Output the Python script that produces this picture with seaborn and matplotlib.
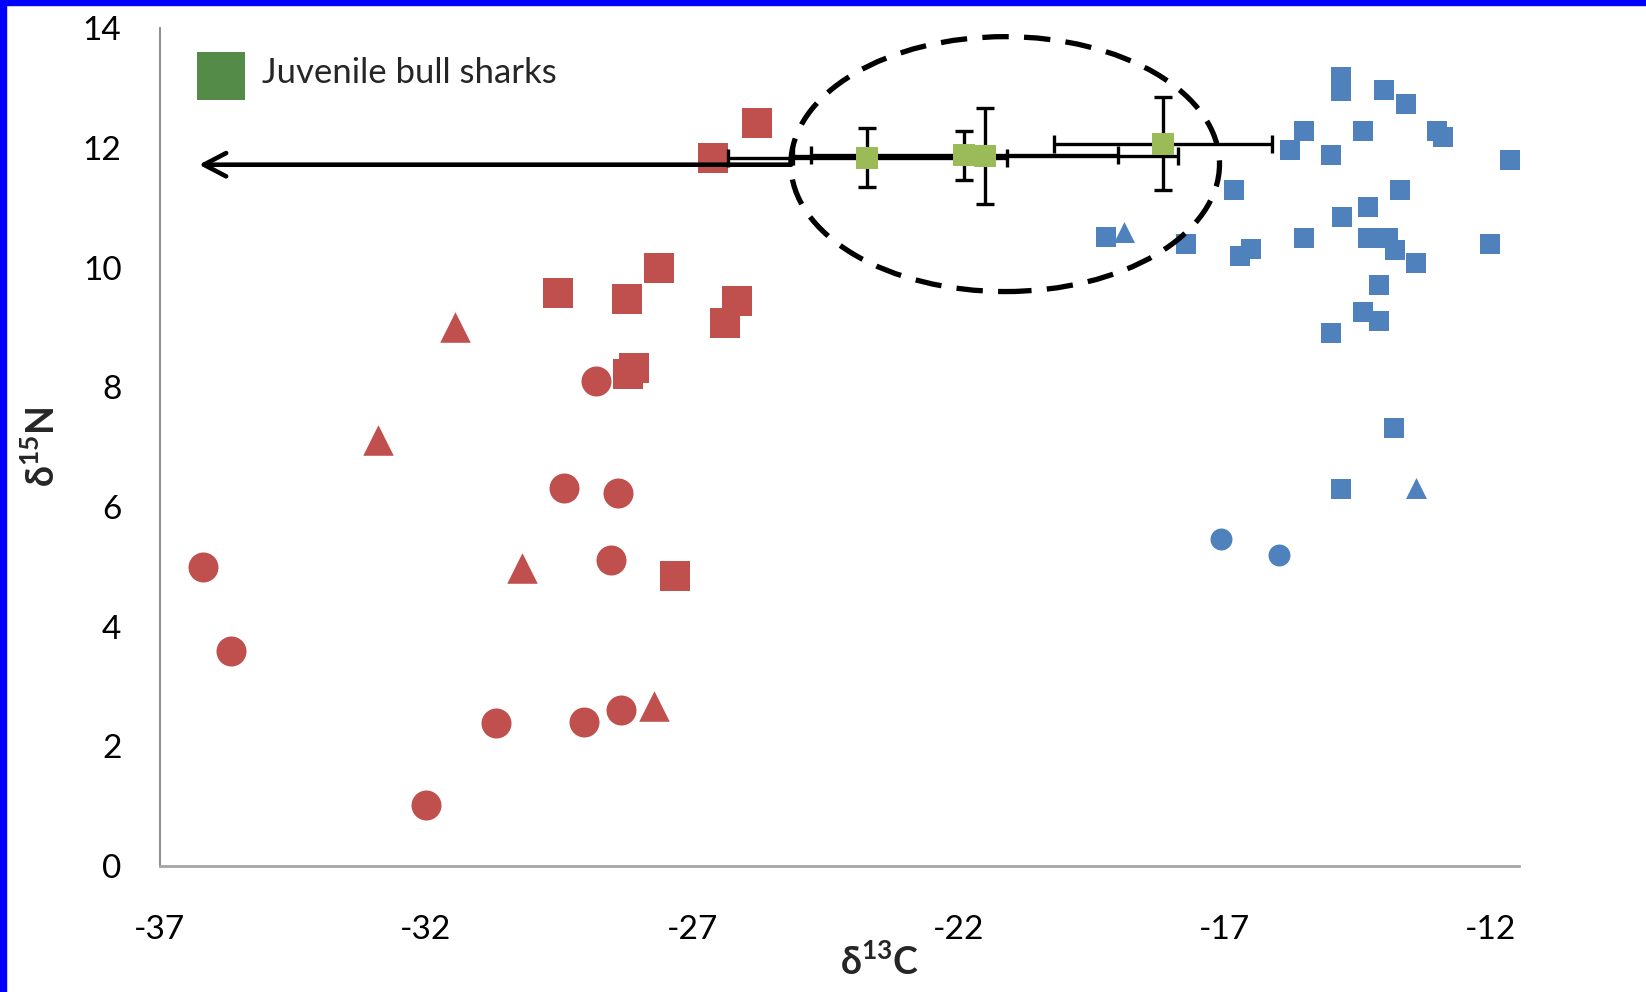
import matplotlib
matplotlib.use("Agg")
import matplotlib.pyplot as plt
import seaborn as sns
from matplotlib.patches import Ellipse, Rectangle
from matplotlib.lines import Line2D

# --- data (delta13C, delta15N) ---
red_sq_x = [-25.78, -26.61, -27.62, -29.51, -28.23, -26.16, -26.39, -28.09, -28.21, -27.32]
red_sq_y = [12.42, 11.84, 10.00, 9.58, 9.47, 9.44, 9.07, 8.33, 8.23, 4.84]
red_ci_x = [-36.19, -35.66, -32.00, -30.69, -29.03, -28.34, -29.41, -28.40, -28.52, -28.80]
red_ci_y = [5.00, 3.60, 1.02, 2.39, 2.40, 2.60, 6.32, 6.23, 5.11, 8.11]
red_tr_x = [-31.46, -32.90, -30.20, -27.71]
red_tr_y = [9.00, 7.12, 4.98, 2.68]

blue_sq_x = [-14.81, -14.81, -14.01, -13.60, -15.50, -15.77, -14.40, -15.00, -13.01, -12.89,
             -11.64, -16.82, -13.71, -14.30, -14.80, -19.22, -17.73, -16.51, -16.71, -15.50,
             -14.30, -13.93, -13.80, -13.41, -12.01, -14.10, -14.40, -14.10, -15.00, -13.81,
             -14.82]
blue_sq_y = [13.18, 12.95, 12.97, 12.74, 12.28, 11.97, 12.28, 11.89, 12.28, 12.18,
             11.80, 11.30, 11.30, 11.01, 10.85, 10.52, 10.40, 10.31, 10.20, 10.49,
             10.49, 10.49, 10.29, 10.08, 10.40, 9.71, 9.26, 9.11, 8.91, 7.32,
             6.30]
blue_tr_x = [-18.88, -13.40]
blue_tr_y = [10.60, 6.32]
blue_ci_x = [-17.07, -15.98]
blue_ci_y = [5.47, 5.19]

# juvenile bull sharks: mean +/- error
shark_x = [-23.71, -21.89, -21.49, -18.15]
shark_y = [11.84, 11.88, 11.86, 12.07]
shark_xerr = [2.62, 2.88, 3.61, 2.05]
shark_yerr = [0.50, 0.41, 0.80, 0.78]

# annotation: dashed ellipse and arrow
ellipse_center = (-21.12, 11.73)
ellipse_size = (8.05, 4.26)
arrow_start = (-25.14, 11.72)
arrow_end = (-36.26, 11.72)

RED = "#C0504D"
BLUE = "#4F81BD"
GREEN = "#9BBB59"
LEG_GREEN = "#558B48"
GREY = "#8C8C8C"

sns.set_style("white")
plt.rcParams["font.family"] = ["Lato", "DejaVu Sans"]
plt.rcParams["mathtext.fontset"] = "custom"
plt.rcParams["mathtext.rm"] = "Lato"
plt.rcParams["mathtext.bf"] = "Lato:bold"
plt.rcParams["axes.unicode_minus"] = False

fig = plt.figure(figsize=(16.46, 9.92), dpi=100)
ax = fig.add_axes([0.09696, 0.1270, 0.8259, 0.8445])

groups = [
    (red_sq_x, red_sq_y, "s", 467, RED),
    (red_ci_x, red_ci_y, "o", 467, RED),
    (red_tr_x, red_tr_y, "^", 484, RED),
    (blue_sq_x, blue_sq_y, "s", 218, BLUE),
    (blue_tr_x, blue_tr_y, "^", 228, BLUE),
    (blue_ci_x, blue_ci_y, "o", 250, BLUE),
]
for gx, gy, mk, size, col in groups:
    sns.scatterplot(x=gx, y=gy, marker=mk, s=size, color=col, linewidth=0,
                    ax=ax, zorder=2, clip_on=True)

ax.errorbar(shark_x, shark_y, xerr=shark_xerr, yerr=shark_yerr, fmt="none",
            ecolor="black", elinewidth=2.4, capsize=6.5, capthick=2.4, zorder=3)

ax.annotate("", xy=arrow_end, xytext=arrow_start,
            arrowprops=dict(arrowstyle="->,head_length=0.8,head_width=0.42",
                            lw=3.3, color="black", mutation_scale=20,
                            shrinkA=0, shrinkB=0),
            zorder=3)

sns.scatterplot(x=shark_x, y=shark_y, marker="s", s=250, color=GREEN,
                linewidth=0, ax=ax, zorder=4)

ax.add_patch(Ellipse(ellipse_center, ellipse_size[0], ellipse_size[1], fill=False,
                     edgecolor="black", lw=3.8, linestyle=(0, (5.0, 2.9)), zorder=5))

ax.set_xlim(-37, -11.47)
ax.set_ylim(0, 14)
ax.set_xticks([-37, -32, -27, -22, -17, -12])
ax.set_yticks([0, 2, 4, 6, 8, 10, 12, 14])

for side in ["top", "right"]:
    ax.spines[side].set_visible(False)
ax.spines["left"].set_color(GREY)
ax.spines["left"].set_linewidth(1.4)
ax.spines["bottom"].set_color("#A6A6A6")
ax.spines["bottom"].set_linewidth(2.0)

ax.tick_params(axis="both", direction="out", length=9.4, width=1.0, color=GREY,
               labelsize=24, labelcolor="black")
ax.tick_params(axis="x", pad=26)
ax.tick_params(axis="y", pad=18)
ax.grid(False)

ax.set_xlabel(r"δ$^{\mathbf{13}}$C", fontsize=27, fontweight="bold", va="center")
ax.xaxis.set_label_coords(0.530, -0.1146)
ax.set_ylabel(r"δ$^{\mathbf{15}}$N", fontsize=27, fontweight="bold", va="center")
ax.yaxis.set_label_coords(-0.0865, 0.5)

handle = Line2D([], [], marker="s", linestyle="", color=LEG_GREEN, markersize=34,
                markeredgewidth=0)
leg = ax.legend([handle], ["Juvenile bull sharks"], loc="upper left",
                bbox_to_anchor=(0.0282, 0.961), frameon=False, fontsize=25,
                borderpad=0, borderaxespad=0, handlelength=1.3, handleheight=1.3,
                handletextpad=0.55)
leg.get_texts()[0].set_position((0, 8))

# blue frame on the left and top edges
fig.add_artist(Rectangle((0, 0), 6 / 1646, 1, transform=fig.transFigure,
                         color="#0000FF", zorder=10))
fig.add_artist(Rectangle((0, 1 - 5 / 992), 1, 5 / 992, transform=fig.transFigure,
                         color="#0000FF", zorder=10))

fig.savefig("out.png", dpi=100)
